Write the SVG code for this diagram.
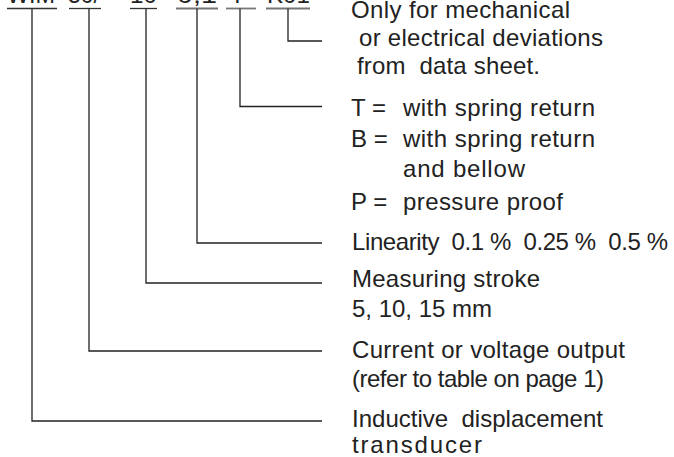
<svg xmlns="http://www.w3.org/2000/svg" width="674" height="457" viewBox="0 0 674 457">
<style>
text{font-family:"Liberation Sans",Arial,Helvetica,sans-serif;font-size:24px;fill:#222;white-space:pre;}
.c{fill:none;stroke:#222;stroke-width:1.3;}
.u{fill:none;stroke:#333;stroke-width:1.3;}
.g{fill:none;stroke:#777;stroke-width:1.8;}
</style>
<rect width="674" height="457" fill="#fff"/>
<g id="code">
<text x="7" y="3" textLength="48" lengthAdjust="spacingAndGlyphs">WIM</text>
<text x="68" y="3" textLength="32" lengthAdjust="spacingAndGlyphs">50/</text>
<text x="130" y="3" textLength="27" lengthAdjust="spacingAndGlyphs">10</text>
<text x="177" y="3" textLength="40" lengthAdjust="spacingAndGlyphs">0,1</text>
<text x="230" y="3">T</text>
<text x="267" y="3" textLength="43" lengthAdjust="spacingAndGlyphs">K01</text>
</g>
<g id="connectors">
<line class="u" x1="7" y1="8.5" x2="57" y2="8.5"/>
<line class="u" x1="69" y1="8.5" x2="101" y2="8.5"/>
<line class="u" x1="130" y1="8.5" x2="157" y2="8.5"/>
<line class="g" x1="176" y1="8.5" x2="218" y2="8.5"/>
<line class="g" x1="226" y1="8.5" x2="256" y2="8.5"/>
<line class="g" x1="266" y1="8.5" x2="310" y2="8.5"/>
<polyline class="c" points="32,8.5 32,421 322,421"/>
<polyline class="c" points="89,8.5 89,351 322,351"/>
<polyline class="c" points="146,8.5 146,283 322,283"/>
<polyline class="c" points="197,8.5 197,243 322,243"/>
<polyline class="c" points="240,8.5 240,106.5 322,106.5"/>
<polyline class="c" points="288,8.5 288,41 322,41"/>
</g>
<g id="n-deviations">
<text x="351" y="18" textLength="219" lengthAdjust="spacing">Only for mechanical</text>
<text x="359" y="46" textLength="244" lengthAdjust="spacing">or electrical deviations</text>
<text x="357" y="74" textLength="183" lengthAdjust="spacing">from  data sheet.</text>
</g>
<g id="n-option">
<text x="351" y="116">T =</text>
<text x="403" y="116" textLength="192" lengthAdjust="spacing">with spring return</text>
<text x="351" y="147">B =</text>
<text x="403" y="147" textLength="192" lengthAdjust="spacing">with spring return</text>
<text x="403" y="177" textLength="122" lengthAdjust="spacing">and bellow</text>
<text x="351" y="210">P =</text>
<text x="403" y="210" textLength="160" lengthAdjust="spacing">pressure proof</text>
</g>
<g id="n-linearity">
<text x="352" y="250" textLength="316" lengthAdjust="spacing">Linearity  0.1 %  0.25 %  0.5 %</text>
</g>
<g id="n-stroke">
<text x="352" y="287" textLength="188" lengthAdjust="spacing">Measuring stroke</text>
<text x="352" y="317" textLength="140" lengthAdjust="spacing">5, 10, 15 mm</text>
</g>
<g id="n-output">
<text x="352" y="358" textLength="273" lengthAdjust="spacing">Current or voltage output</text>
<text x="352" y="387" textLength="252" lengthAdjust="spacing">(refer to table on page 1)</text>
</g>
<g id="n-transducer">
<text x="352" y="427" textLength="251" lengthAdjust="spacing">Inductive  displacement</text>
<text x="352" y="453" textLength="130" lengthAdjust="spacing">transducer</text>
</g>
</svg>
